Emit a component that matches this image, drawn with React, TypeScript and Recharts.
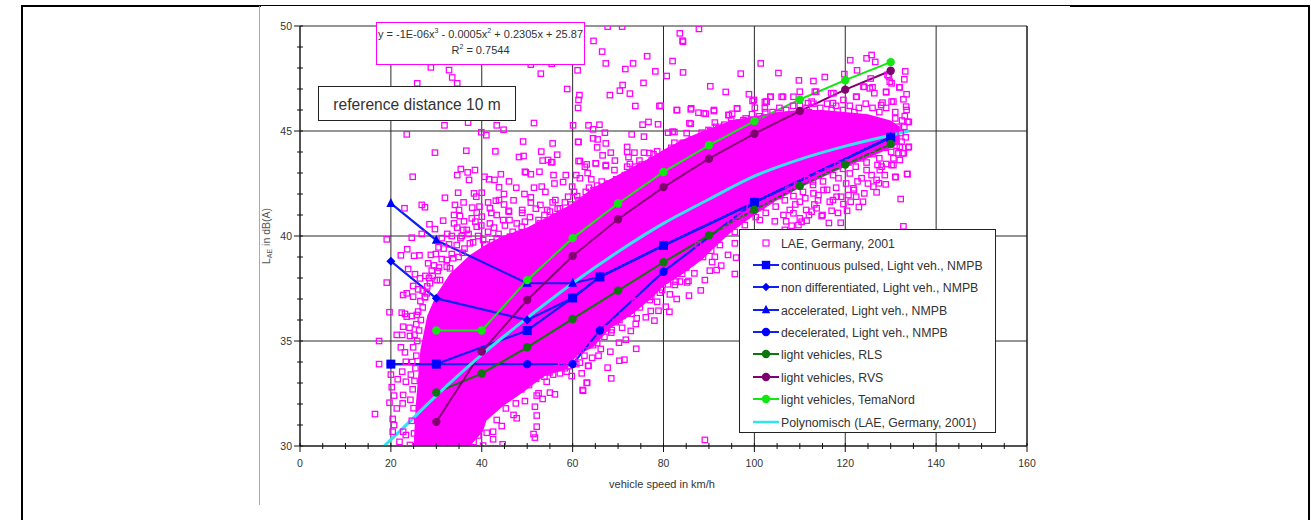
import React from "react";
import { ComposedChart, Area, Line, Scatter, XAxis, YAxis, CartesianGrid } from "recharts";

const F = "'Liberation Sans', Arial, sans-serif";
const TXT = "#333";
const MAG = "#ff00ff";

const xTicks = [0,5,10,15,20,25,30,35,40,45,50,55,60,65,70,75,80,85,90,95,100,105,110,115,120,125,130,135,140,145,150,155,160];
const yTicks = [30,31,32,33,34,35,36,37,38,39,40,41,42,43,44,45,46,47,48,49,50];
const yMajor = [30,35,40,45,50];
const xMajor = [0,20,40,60,80,100,120,140,160];

// Solid part of the LAE cloud
const bandX =    [25,25.5,26.5,28,30,33,37.4,40.3,41,44.7,50,53.5,58.8,60.9,64.5,68.2,73.3,77.7,79.9,84.3,88.7,90,95,100,105,110,115,120,125,130,132];
const bandLow =  [30,30,30,30,30,30,30,30.7,31.2,31.9,32.7,33.3,33.7,34.3,34.7,35.6,36.3,37.1,37.6,38.2,38.9,39.2,40.2,41,41.7,42.3,42.8,43.3,43.7,44.2,44.4];
const bandHigh = [30,32,34.6,36.2,37.2,38.2,39.1,39.5,39.6,40,40.4,40.8,41.4,41.7,42.3,42.7,43.3,43.8,44.1,44.6,45,45.1,45.5,45.7,45.9,46,46,45.9,45.8,45.5,45.2];

// Individually visible LAE squares
const laeTopLeft = [[28.8,48.03],[32.8,47.9],[33.5,47.55],[34.6,47.27],[25.8,47.27],[31.8,45.27],[37,45.4],[43.3,45.27],[44.8,45.06],[51.5,45.38],[60.1,45.27],[23.5,44.84],[39.9,44.94],[41,44.8],[50.8,48.16],[55.4,48.2],[53,47.73],[58.8,47],[61.5,46.71],[61.3,46.48],[61.2,46.1],[61.2,44.48],[49.1,44.5],[55.6,44.41],[29.7,43.97],[36.6,44.06],[43,44.03],[53.1,44.02],[56.6,43.87],[48.2,43.76],[49.2,43.81],[53.4,43.59],[54.6,43.62],[55.5,43.52],[67.7,49.97],[70.9,49.97],[64.6,49.29],[66.5,48.78],[67.3,48.22],[73.3,48.22],[71.6,47.95],[76.4,48.56],[78.2,47.84],[61.1,47.89],[68.2,46.71],[70.4,46.92],[71,47.19],[75.6,47.29],[72.6,46.78],[73.8,46.19],[79.1,46.19]];
const laeTopMid = [[83.6,49.65],[87.8,49.86],[84.2,49.3],[84.3,49.25],[82,48.33],[80.7,47.62],[84.3,47.79],[97,47.73],[101.4,48.22],[90.3,47.13],[93.7,46.86],[98.8,46.75],[99.6,46.43],[102.3,46.38],[100.1,46.11],[79.4,46.2],[83,45.99],[86,46.03],[87.7,45.87],[89.3,45.82],[91.1,45.95],[96.2,46.06],[94.3,45.76],[95.1,45.82],[76.7,45.43],[75.4,45.3],[78.8,45.32],[65.9,45.3],[63.5,45.27],[86,45.35],[91.3,45.4],[95,45.37],[93.2,45.2],[89.9,45.05],[81,44.92],[82.4,44.95],[88.4,44.92],[85.1,44.9],[91.3,45],[67.1,44.92],[64.5,45.08],[73,44.84],[75.7,44.73],[61.3,44.48],[64.5,44.65],[65.5,44.6],[67.3,44.41],[65.4,44.22],[72,44.24],[66.6,43.84],[68.4,43.97],[72,44],[72.3,43.76],[73.6,43.97],[75.7,43.97],[76.9,43.95],[77.8,43.89],[78.6,44.03],[82.4,44.44],[84.4,44.44],[61.3,43.57],[69.3,43.59],[74.7,43.59],[65.1,43.46],[63.1,43.41],[67.3,43.38],[72.6,43.43]];
const laeTopRight = [[125.8,48.62],[126.6,48.29],[124.7,48.46],[121.1,48.37],[122.6,47.89],[115.5,47.57],[113,47.38],[109.8,47.41],[105.3,47.76],[110,46.87],[133.2,47.84],[133,47.46],[129.6,47.6],[129.8,47.35],[131.9,47.08],[129,46.87],[133.5,46.75],[132.8,46.51],[130.2,46.4],[128.2,46.35],[126.4,46.8],[124,47.11],[125.4,47.03],[122.5,46.63],[117.4,46.8],[113.3,46.87],[112.6,46.4],[106,46.63],[103.6,46.63],[102.7,46.4],[102.3,46.08],[133.5,46],[133.1,45.71],[133.7,45.44],[131,45.6],[119.8,47.71],[133.4,46.16],[134,45.43],[125.6,47.5],[124.2,47.1],[126,47.08],[129.3,47.67],[130.2,47.27],[129,46.84],[132,47.08],[130.6,46.4],[127.9,46.24],[122.4,46.63],[119.6,46.48],[116.9,46.8],[117.3,46.33],[113.6,46.87],[111.8,46.33],[108.6,46.63],[106.3,46.63],[103.5,46.63],[102.6,46.4],[99.9,46.48],[96.2,46.08],[91.1,46],[86.1,46.08],[82.9,46],[94.4,45.76],[88.9,45.84],[97.6,45.52],[91.6,45.2],[85.7,45.37],[82,44.97]];
const laeLowerRight = [[132.4,44.49],[133.9,44.22],[132,44.25],[132.6,43.94],[130.6,43.7],[130.2,43.38],[133.6,42.95],[131,42.82],[129,43.43],[127.1,43.38],[125.8,42.9],[128.7,42.9],[134,44.25],[132.9,43.94],[130.6,43.38],[133.7,42.95],[131.1,42.8],[128.9,42.46],[132.2,41.76],[132.8,40.46],[123.9,41.63],[123,41.38],[121.2,41.63],[119.6,41.52],[119,40.63],[116.4,40.62],[115,41],[110.4,40.68],[112,41],[126.9,42.08],[127.4,42.51],[124.2,42.03],[121.9,42.19],[122.4,41.87],[119.1,41.87],[117.3,41.71],[114.1,41.95],[111.4,41.24],[108.6,41.08],[106.7,40.29],[126.2,42.35],[126.9,42.67],[127.6,43.14],[132,43.62],[131.7,43.94],[123.6,42.75],[121.8,42.27],[120.7,41.95],[118.1,41.87],[116.6,41.63],[114.8,40.95],[113.7,41.32],[112.6,41.16],[111.5,40.73],[110,40.84],[108.2,40.49],[109.7,40.52],[115.2,42.19],[113,42.03],[110,41.63],[107.8,41.24],[106.4,41],[112.9,42.43],[118.5,42.75],[121,42.98],[124.7,43.14],[92.4,39.57],[95.7,40.19],[97.9,40.52],[101.2,40.76],[103.9,40.05],[94.2,39.1],[88,39.33],[90.7,38.76],[89.1,37.9],[85.8,38.76],[81.9,38.29],[79.7,37.43],[77,36.95]];
const laeLowerMid = [[89.1,30.29],[88.2,37.41],[85.6,37.16],[82.9,37],[81.3,36.39],[80.5,36.63],[92.7,38.59],[91.7,38.38],[90.2,38.35],[91.3,39.01],[95.7,38.19],[96,38.97],[95.7,39.65],[85.5,37.86],[83.6,37.83],[82.5,37.67],[81.4,37.22],[78.9,36.44],[78,35.97],[76.1,36.13],[73.9,35.81],[72.8,35.48],[71.7,35.06],[74,34.63],[70.2,34.92],[68.3,34.49],[66.2,34.62],[71.4,34.11],[70.3,34.06],[67.7,33.73],[68.5,33.22],[63.4,33.82],[62,33.46],[63.1,33.01],[59.8,33.33],[62.2,32.67],[65.7,34.3],[64.3,34.2],[61.6,33.97],[86.8,38.22],[85.2,37.79],[82.7,37.83],[78.6,36.87],[77.2,36.43],[74.1,36.08],[70.9,35.63],[68.6,35.52],[58.7,33.54],[57.2,33.46],[44.6,30.08],[40.3,30.02],[51.7,30.4],[51.4,30.57],[52.1,30.92],[42.5,30.32],[41.1,30.63],[42.5,30.68],[44.4,30.95],[43.3,31.24],[47.7,31.32],[47,31.48],[52.1,31.45],[51.7,31.87],[49.5,32.14],[47.5,32.03],[45.3,31.79],[52.1,32.4],[53.4,32.24],[52.5,32.51],[55,32.54],[56.1,32.46],[54.3,33.06],[62.3,32.63],[63.2,33.01],[63.5,33.82]];
const laeLeft = [[16.5,31.52],[17.4,33.9],[17.4,35],[19.7,36.37],[22.4,36.35],[23.1,36.29],[24.6,36.19],[25.7,36.24],[22.7,35.68],[24.1,35.63],[21.3,35.29],[22.5,35.29],[24.2,35.24],[22.2,34.7],[23.1,34.46],[23.3,34.01],[20,33.4],[21.5,33.18],[22.5,33.54],[23.3,33.06],[20.2,32.8],[20.7,32.4],[22.7,32.43],[19.7,32.06],[21.3,31.79],[22.6,32.03],[20.4,31.29],[20.7,31],[20.4,30.68],[21.9,30.2],[23.3,30.52],[22.7,30.68],[24.2,30.05],[19.1,39.84],[19.1,37.78],[23,41.32],[26.8,41.48],[27.5,41.37],[24.8,42.82],[28.5,40.56],[26.8,40.1],[24.6,39.92],[23.6,39.37],[22.2,39.08],[25.1,39.06],[26.3,39.08],[28.2,38.7],[23.8,38.43],[25.3,38.18],[26.4,37.98],[28.6,37.75],[24.9,37.62],[26,37.46],[23.5,37.27],[22.7,37.19],[27.5,37.08],[24.9,37.11],[23.5,36.16],[27.9,37.27]];
const laeUpperLeft = [[31.9,41.82],[34.8,42.06],[34.6,42.9],[35.4,43.19],[36.9,43.03],[38.5,43.14],[37.2,42.67],[40.6,42.82],[41.6,42.7],[42.8,42.67],[44.2,42.94],[43.8,42.32],[49.5,43.06],[50.8,42.94],[52.7,43.06],[53.2,42.35],[50.8,41.84],[52.9,41.48],[50.8,41.59],[48.9,41.24],[40,42.06],[38.3,42.03],[41.4,41.6],[43.1,41.68],[43.8,41.71],[34.1,41.48],[33.9,41],[35,41.24],[35.2,40.95],[37.9,41.35],[38.9,41.11],[41.8,41.32],[45.9,41.2],[37.8,40.84],[31.5,40.73],[33.9,40.6],[29.7,40.33],[30.5,39.46],[29.9,39.14],[31.2,38.9],[33.4,39.14],[33.7,38.94],[29,38.35],[30.3,38.33],[32.3,38.54],[30.1,37.9],[55.3,43.51],[49.7,43.03],[57.9,42.57],[59.9,42.35],[61.6,43.57],[62.7,43.3],[65.1,43.46],[67.3,43.33],[61.6,42.75],[64.1,42.7],[66.4,42.59],[69.2,43.14],[72,43.3],[74.8,43.14],[56.2,41.71],[59,41.87],[61.3,41.71],[64.6,42.19],[54.4,41.24],[57.2,41.32],[46,41.16],[43.3,41],[40,40.92],[38.8,41.87],[35.9,40.29],[38.6,40.68],[46.1,40.76],[48.8,40.44],[52.5,40.76],[56.2,40.92]];
const laeBandEdge = [[36.7,40.29],[38.9,40.44],[41.8,40.6],[44.7,40.76],[47.7,40.6],[49.5,40.68],[52.8,40.6],[55,41.16],[57.2,40.92],[59.4,41.08],[61.6,41.4],[63.8,41.56],[66,41.87],[68.2,42.03],[34.5,39.57],[37.4,39.65],[40.3,39.81],[43.3,39.89],[46.2,39.97],[49.1,39.89],[52.1,39.97],[55.7,40.29],[32.3,38.86],[33,38.46],[30.8,37.9]];
const laeFuzzLeft = [[25.1,30.6],[24.6,31.2],[25,31.8],[24.3,32.2],[24.8,32.7],[25.2,33.1],[24.4,33.4],[25.4,33.7],[24.7,34],[25.6,34.3],[24.9,34.7],[25.8,35],[25.2,35.3],[26.2,35.5],[25.6,35.8],[26.6,36],[26,36.4],[27,36.6],[26.5,36.9],[27.5,37.1],[27,37.4],[28,37.6],[28.4,38],[27.6,38.1],[29.2,38.1],[29.5,38.6],[28.8,39.1],[30.6,38.5],[31.6,39.4],[32.8,39.6],[31.2,39.9],[32.4,40.1],[33.4,40],[34.6,40.4],[35.6,40],[36.2,39.4],[34.9,39],[35.8,39.2]];
const laeFuzzUpper = [[35.3,39.9],[36.1,40.7],[37.1,40.1],[38.1,39.7],[39.2,40],[39.9,40.5],[40.8,39.6],[41.4,40.2],[42.3,39.7],[42.7,40.4],[43.7,40.1],[44.3,39.6],[45.1,40.5],[45.6,39.8],[46.8,40.2],[47.4,39.9],[48.3,40.1],[48.9,41.1],[50,40.2],[50.6,40.9],[51.4,40.3],[51.9,41.3],[53.3,40.4],[53.8,41],[54.6,40.7],[55.6,41.6],[56.7,41.3],[57.7,41],[58.3,41.6],[59.7,41.5],[60.3,42.1],[61,41.9],[62.1,41.5],[62.9,42.1],[63.6,42.3],[64.9,41.9],[65.4,42.4],[66.8,42.2],[67.9,42.5],[68.9,42.3],[69.6,42.7],[70.8,42.5],[71.5,42.9],[72.6,42.9],[73.7,43.3],[75.2,43.4],[76.3,43.4],[77.4,43.6],[78.7,43.7],[79.8,43.8],[81,43.9],[81.7,44.2],[83,44.1],[84,44.4],[85.3,44.3],[86.2,44.6],[87.1,44.5],[88.1,44.7],[89.2,44.8],[90.3,45],[92.1,45.1],[93.4,45.3],[94.9,45.5],[96.5,45.4],[98.1,45.6],[99.5,45.8],[101,45.7],[102.4,45.9],[104,45.9],[105.5,46.1],[107,46],[108.5,46.2],[110,46.2],[111.5,46.1],[113,46.3],[114.5,46.1],[116,46.3],[118,46.2],[119.5,46],[121,46.2],[123,46.1],[124.5,46.3],[126,46.1],[127.5,45.9],[129,46.1],[131,45.9],[132.5,45.5],[133,45.2],[131.5,45.2],[132.2,44.9],[133.3,44.7],[122,45.9],[117,46],[112,45.9],[36,41.6],[39.5,41.4],[42.1,41.1],[44.9,41.5],[47,41.7],[49.4,42],[51.5,42.3],[54,42.1],[56,42.5],[58.5,42.9],[60.8,42.9],[63.3,43],[47.6,42.3],[46,42.6],[44.9,42],[55.8,42.9]];
const laeFuzzLower = [[38.2,30.2],[39.2,30.5],[40.1,31.3],[40.8,32],[41.8,32],[42.6,31.9],[43.4,32.2],[44.2,32.6],[45.3,32.7],[46.2,32.4],[46.9,32.9],[47.8,33],[48.7,32.7],[49.6,33.1],[50.4,32.9],[51.2,33.2],[52,33.2],[52.9,33.4],[53.8,33.3],[54.9,33.5],[55.7,33.4],[56.6,33.7],[57.5,33.8],[58.3,33.7],[59.2,33.8],[60.2,34.2],[60.8,33.9],[61.8,34.6],[62.6,34.3],[63.2,34.8],[64.5,34.8],[65.4,34.9],[66,35.4],[67,35.2],[67.6,35.6],[68.5,35.4],[69.5,35.9],[70.3,36],[71,36.2],[72,36.3],[73,36.3],[73.7,36.9],[74.8,36.6],[75.5,37],[76.4,37.2],[77.3,37.1],[78.2,37.6],[79.2,37.3],[80.3,37.9],[81,37.7],[82,38.2],[83,38.2],[84.1,38.2],[85,38.5],[86.2,38.9],[87,39],[87.6,39.6],[88.7,39],[89.7,39.5],[90.5,39.3],[91.6,39.9],[92.8,40.1],[93.8,40.3],[94.8,40.7],[96,40.6],[97,41],[98.2,41],[99,41.4],[100.3,40.9],[101.5,41.4],[102.5,41.1],[103.5,41.7],[104.7,41.4],[105.6,41.9],[106.7,41.7],[107.5,42.2],[108.6,41.9],[109.4,42.4],[110.7,42.1],[111.6,42.7],[112.9,42.6],[114.2,42.9],[115.1,42.6],[116.2,43.1],[117.3,42.9],[118.3,43.4],[119.5,43.2],[120.7,43.5],[122.3,43.3],[123.4,43.7],[124.7,43.5],[126,43.9],[127.5,43.7],[128.7,44.2],[130.1,44],[131.3,44.3],[114,41.7],[116,42.2],[118,42.3],[120.2,42.5],[122.7,42.6],[125,42.5],[128,43.3],[104.5,40.7],[107,40.7],[109,41.5],[111.2,41.8],[113.2,41.5],[117,41.2],[118.4,41.1],[120.4,41.2]];
const laePoints = [...laeTopLeft, ...laeTopMid, ...laeTopRight, ...laeLowerRight, ...laeLowerMid, ...laeLeft, ...laeUpperLeft, ...laeBandEdge, ...laeFuzzLeft, ...laeFuzzUpper, ...laeFuzzLower].map(([x, y]) => ({ x, y }));

const continuousX = [20,30,50,60,66,80,100,130];
const continuousY = [33.9,33.9,35.5,37.05,38.05,39.55,41.6,44.7];
const nonDiffY = [38.8,37.03,36,37.05,38.05,39.55,41.6,44.7];
const accelY = [41.55,39.8,37.75,37.75,38.05,39.55,41.6,44.7];
const decelY = [33.9,33.9,33.9,33.9,35.5,38.3,41.6,44.7];
const modelX = [30,40,50,60,70,80,90,100,110,120,130];
const rlsY = [32.55,33.45,34.7,36.05,37.4,38.75,40.03,41.25,42.38,43.4,44.38];
const rvsY = [31.15,34.5,36.95,39.05,40.8,42.33,43.68,44.87,45.95,46.97,47.87];
const temaY = [35.5,35.5,37.9,39.9,41.55,43.05,44.32,45.47,46.5,47.42,48.28];
const polyX = [18.5,20,30,40,50,60,70,80,90,100,110,120,130,134];
const polyY = [30,30.3,32.4,34.35,36.1,37.75,39.25,40.6,41.75,42.85,43.65,44.28,44.8,45];

const zip = (xs: number[], ys: number[]) => xs.map((x, i) => ({ x, y: ys[i] }));
const bandData = bandX.map((x, i) => ({ x, range: [bandLow[i], bandHigh[i]] }));

const BLUE = "#0000ff";
const LINEBLUE = "#1020f0";
const DGREEN = "#0a780a";
const PURPLE = "#800070";
const LIME = "#10e810";
const CYAN = "#30e4f0";

const legendNames = ["LAE, Germany, 2001","continuous pulsed, Light veh., NMPB","non differentiated, Light veh., NMPB","accelerated, Light veh., NMPB","decelerated, Light veh., NMPB","light vehicles, RLS","light vehicles, RVS","light vehicles, TemaNord","Polynomisch (LAE, Germany, 2001)"];
const rowTops = [14, 36, 58, 81, 103, 125, 148, 170, 193];

function marker(kind: string, cx: number, cy: number, c: string, s = 4.5) {
  if (kind === "square") return <rect x={cx - s} y={cy - s} width={2 * s} height={2 * s} fill={c} stroke="none" />;
  if (kind === "diamond") return <path d={`M${cx} ${cy - s}L${cx + s} ${cy}L${cx} ${cy + s}L${cx - s} ${cy}Z`} fill={c} />;
  if (kind === "triangle") return <path d={`M${cx} ${cy - s - 1}L${cx + s} ${cy + s - 1}L${cx - s} ${cy + s - 1}Z`} fill={c} />;
  return <circle cx={cx} cy={cy} r={s} fill={c} />;
}
const dot = (kind: string, c: string, s?: number) => (p: any) => <g key={p.key ?? `${p.cx}-${p.cy}`}>{marker(kind, p.cx, p.cy, c, s)}</g>;

const hollow = (p: any) => <rect x={p.cx - 2.7} y={p.cy - 2.7} width={5.4} height={5.4} fill="none" stroke={MAG} strokeWidth={1.25} />;

const leftTick = (p: any) => {
  const major = yMajor.includes(p.payload.value);
  return (
    <g>
      <line x1={p.x - (major ? 6 : 3)} x2={p.x + 3} y1={p.y} y2={p.y} stroke="#111" strokeWidth={1} />
      {major && <text x={p.x - 8} y={p.y + 4} textAnchor="end" fontSize={10.5} fontFamily={F} fill={TXT}>{p.payload.value}</text>}
    </g>
  );
};
const rightTick = (p: any) => (
  <g>
    <line x1={p.x} x2={p.x + 5} y1={p.y} y2={p.y} stroke="#111" strokeWidth={1} />
    <text x={p.x + 9} y={p.y + 4} textAnchor="start" fontSize={10.5} fontFamily={F} fill={TXT}>{p.payload.value}</text>
  </g>
);
const bottomTick = (p: any) => {
  const major = xMajor.includes(p.payload.value);
  return (
    <g>
      <line x1={p.x} x2={p.x} y1={p.y - 3} y2={p.y + (major ? 6 : 3)} stroke="#111" strokeWidth={1} />
      {major && <text x={p.x} y={p.y + 21} textAnchor="middle" fontSize={10.5} fontFamily={F} fill={TXT}>{p.payload.value}</text>}
    </g>
  );
};

function LegendIcon({ i }: { i: number }) {
  const line = (c: string, w = 2) => <line x1={0} x2={26} y1={9} y2={9} stroke={c} strokeWidth={w} />;
  const kinds: any[] = [
    <rect key="0" x={10} y={6} width={6} height={6} fill="none" stroke={MAG} strokeWidth={1.2} />,
    <g key="1">{line(LINEBLUE)}{marker("square", 13, 9, BLUE, 4.2)}</g>,
    <g key="2">{line(LINEBLUE)}{marker("diamond", 13, 9, BLUE, 4.2)}</g>,
    <g key="3">{line(LINEBLUE)}{marker("triangle", 13, 9, BLUE, 4.2)}</g>,
    <g key="4">{line(LINEBLUE)}{marker("circle", 13, 9, BLUE, 4.2)}</g>,
    <g key="5">{line(DGREEN)}{marker("circle", 13, 9, DGREEN, 4.2)}</g>,
    <g key="6">{line(PURPLE)}{marker("circle", 13, 9, PURPLE, 4.2)}</g>,
    <g key="7">{line(LIME)}{marker("circle", 13, 9, LIME, 4.2)}</g>,
    <g key="8">{line(CYAN, 2.5)}</g>,
  ];
  return <svg width={26} height={18} style={{ position: "absolute", left: 13, top: -10 }}>{kinds[i]}</svg>;
}

export default function App() {
  return (
    <div style={{ position: "absolute", left: 0, top: 0, width: 1311, height: 520, background: "#fff", overflow: "hidden", fontFamily: F }}>
      <ComposedChart width={1311} height={520} margin={{ top: 26, right: 254, bottom: 44, left: 270 }} data={bandData}>
        <CartesianGrid stroke="#2a2a2a" strokeWidth={1} horizontalValues={yMajor} verticalValues={xMajor} />
        <XAxis type="number" dataKey="x" domain={[0, 160]} ticks={xTicks} interval={0} allowDataOverflow height={30} tickSize={0} tickMargin={0} tick={bottomTick} stroke="#111"
          label={{ content: () => <text x={662} y={488} textAnchor="middle" fontSize={11} fontFamily={F} fill={TXT}>vehicle speed in km/h</text> }} />
        <YAxis type="number" domain={[30, 50]} ticks={yTicks} interval={0} allowDataOverflow width={30} tickSize={0} tickMargin={0} tick={leftTick} stroke="#111"
          label={{ content: () => (
            <text transform="rotate(-90 270 236)" x={270} y={236} textAnchor="middle" fontSize={10.5} fontFamily={F} fill="#555">L<tspan fontSize={7} dy={2}>AE</tspan><tspan dy={-2}> in dB(A)</tspan></text>
          ) }} />
        <YAxis yAxisId="right" orientation="right" type="number" domain={[30, 50]} ticks={yMajor} interval={0} width={30} tickSize={0} tickMargin={0} tick={rightTick} stroke="#111" />

        <Area data={bandData} dataKey="range" stroke="none" fill={MAG} fillOpacity={1} isAnimationActive={false} dot={false} activeDot={false} />
        <Scatter data={laePoints} dataKey="y" shape={hollow} isAnimationActive={false} />

        <Line data={zip(continuousX, continuousY)} dataKey="y" stroke={LINEBLUE} strokeWidth={2.2} dot={dot("square", BLUE)} isAnimationActive={false} />
        <Line data={zip(continuousX, nonDiffY)} dataKey="y" stroke={LINEBLUE} strokeWidth={2.2} dot={dot("diamond", BLUE)} isAnimationActive={false} />
        <Line data={zip(continuousX, accelY)} dataKey="y" stroke={LINEBLUE} strokeWidth={2.2} dot={dot("triangle", BLUE)} isAnimationActive={false} />
        <Line data={zip(continuousX, decelY)} dataKey="y" stroke={LINEBLUE} strokeWidth={2.2} dot={dot("circle", BLUE, 4.2)} isAnimationActive={false} />
        <Line data={zip(modelX, rlsY)} dataKey="y" stroke={DGREEN} strokeWidth={2} dot={dot("circle", DGREEN, 4.2)} isAnimationActive={false} />
        <Line data={zip(modelX, rvsY)} dataKey="y" stroke={PURPLE} strokeWidth={2} dot={dot("circle", PURPLE, 4.2)} isAnimationActive={false} />
        <Line data={zip(modelX, temaY)} dataKey="y" stroke={LIME} strokeWidth={2} dot={dot("circle", LIME, 4.2)} isAnimationActive={false} />
        <Line data={zip(polyX, polyY)} dataKey="y" type="monotone" stroke={CYAN} strokeWidth={3} dot={false} isAnimationActive={false} />
      </ComposedChart>

      {/* page frame */}
      <div style={{ position: "absolute", left: 21, top: 6, width: 2, height: 514, background: "#000" }} />
      <div style={{ position: "absolute", left: 21, top: 5, width: 240, height: 2, background: "#000" }} />
      <div style={{ position: "absolute", left: 260, top: 5, width: 810, height: 1, background: "#000" }} />
      <div style={{ position: "absolute", left: 1070, top: 5, width: 239, height: 2, background: "#000" }} />
      <div style={{ position: "absolute", left: 1308, top: 5, width: 2, height: 515, background: "#000" }} />
      <div style={{ position: "absolute", left: 259, top: 6, width: 1, height: 499, background: "#aaa" }} />

      {/* trend-line label */}
      <div style={{ position: "absolute", left: 376, top: 22, width: 207, height: 38, border: "1.5px solid " + MAG, background: "#fff", textAlign: "center", fontSize: 11, color: TXT, lineHeight: "16px", paddingTop: 3, whiteSpace: "nowrap" }}>
        <div>y = -1E-06x<sup style={{ fontSize: 7, lineHeight: 0 }}>3</sup> - 0.0005x<sup style={{ fontSize: 7, lineHeight: 0 }}>2</sup> + 0.2305x + 25.87</div>
        <div>R<sup style={{ fontSize: 7, lineHeight: 0 }}>2</sup> = 0.7544</div>
      </div>

      {/* distance note */}
      <div style={{ position: "absolute", left: 318, top: 86, width: 196, height: 33, border: "1px solid #222", background: "#fff", textAlign: "center", fontSize: 15.6, lineHeight: "35px", color: TXT, whiteSpace: "nowrap" }}>reference distance 10 m</div>

      {/* legend */}
      <div style={{ position: "absolute", left: 739, top: 229, width: 255, height: 202, border: "1px solid #222", background: "#fff" }}>
        {legendNames.map((n, i) => (
          <div key={n} style={{ position: "absolute", left: 0, top: rowTops[i], width: 255, height: 0 }}>
            <LegendIcon i={i} />
            <span style={{ position: "absolute", left: 41, top: -8, fontSize: 12.3, lineHeight: "16px", color: TXT, whiteSpace: "nowrap" }}>{n}</span>
          </div>
        ))}
      </div>
    </div>
  );
}
